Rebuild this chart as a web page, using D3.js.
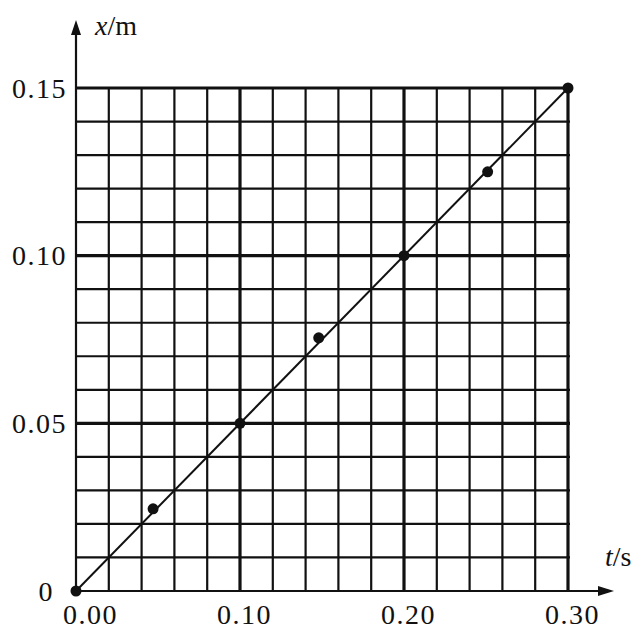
<!DOCTYPE html>
<html><head><meta charset="utf-8">
<script src="https://cdn.jsdelivr.net/npm/d3@7/dist/d3.min.js"></script>
<style>
html,body{margin:0;padding:0;background:#fff;}
svg{display:block;}
text{font-family:"Liberation Serif","DejaVu Serif",serif;fill:#111;}
</style></head>
<body>
<svg id="chart" width="636" height="632"></svg>
<script>
// data
const tValues = [0, 0.047, 0.10, 0.148, 0.20, 0.251, 0.30];
const xValues = [0, 0.0245, 0.05, 0.0755, 0.10, 0.125, 0.15];
const fitT = [0, 0.30];
const fitX = [0, 0.15];
const tTickValues = [0, 0.10, 0.20, 0.30];
const tTickLabels = ["0.00", "0.10", "0.20", "0.30"];
const xTickValues = [0, 0.05, 0.10, 0.15];
const xTickLabels = ["0", "0.05", "0.10", "0.15"];
const tMajor = [0.10, 0.20, 0.30];
const xMajor = [0.05, 0.10, 0.15];

const svg = d3.select("#chart");
const X = d3.scaleLinear().domain([0, 0.30]).range([76, 568]);
const Y = d3.scaleLinear().domain([0, 0.15]).range([591, 88]);
const ink = "#111";

// grid
const g = svg.append("g");
const vt = X.ticks(15);
const ht = Y.ticks(15);
const isMaj = (arr, v) => arr.some(m => Math.abs(m - v) < 1e-9);
g.selectAll("line.v").data(vt.filter(v => v > 0)).join("line")
  .attr("x1", d => X(d)).attr("x2", d => X(d))
  .attr("y1", Y(0)).attr("y2", Y(0.15))
  .attr("stroke", ink).attr("stroke-width", d => isMaj(tMajor, d) ? 3.2 : 2.2);
g.selectAll("line.h").data(ht.filter(v => v > 0)).join("line")
  .attr("x1", X(0)).attr("x2", X(0.30) + 2)
  .attr("y1", d => Y(d)).attr("y2", d => Y(d))
  .attr("stroke", ink).attr("stroke-width", d => isMaj(xMajor, d) ? 3.2 : 2.2);

// axes lines with arrows
svg.append("line").attr("x1", X(0)).attr("x2", X(0)).attr("y1", Y(0)).attr("y2", 30)
  .attr("stroke", ink).attr("stroke-width", 2.2);
svg.append("path").attr("d", `M${X(0)},20 L${X(0)-5},35 L${X(0)+5},35 Z`).attr("fill", ink);
svg.append("line").attr("x1", X(0)).attr("x2", 604).attr("y1", Y(0)).attr("y2", Y(0))
  .attr("stroke", ink).attr("stroke-width", 2.2);
svg.append("path").attr("d", `M614,${Y(0)} L598,${Y(0)-5} L598,${Y(0)+5} Z`).attr("fill", ink);

// tick labels via axes
const ax = svg.append("g").attr("transform", `translate(0,${Y(0)})`)
  .call(d3.axisBottom(X).tickValues(tTickValues).tickSize(0).tickPadding(0)
    .tickFormat((d, i) => tTickLabels[i]));
ax.select(".domain").remove();
ax.selectAll("text").attr("font-size", 28).attr("y", 33).attr("dy", 0)
  .style("letter-spacing", "1.5px")
  .attr("font-family", "Liberation Serif").attr("fill", ink)
  .attr("dx", (d, i) => i === 0 ? 14 : 4);

const ay = svg.append("g").attr("transform", `translate(${X(0)},0)`)
  .call(d3.axisLeft(Y).tickValues(xTickValues).tickSize(0).tickPadding(0)
    .tickFormat((d, i) => xTickLabels[i]));
ay.select(".domain").remove();
ay.selectAll("text").attr("font-size", 28).attr("font-family", "Liberation Serif")
  .style("letter-spacing", "1.5px").attr("fill", ink)
  .attr("x", (d, i) => i === 0 ? -22 : -9).attr("dy", "0.33em");

// axis titles
const tx = svg.append("text").attr("x", 95).attr("y", 35).attr("font-size", 28);
tx.append("tspan").attr("font-style", "italic").text("x");
tx.append("tspan").text("/m");
const tt = svg.append("text").attr("x", 605).attr("y", 566).attr("font-size", 28);
tt.append("tspan").attr("font-style", "italic").text("t");
tt.append("tspan").text("/s");

// fit line
svg.append("line").attr("x1", X(fitT[0])).attr("y1", Y(fitX[0]))
  .attr("x2", X(fitT[1])).attr("y2", Y(fitX[1]))
  .attr("stroke", ink).attr("stroke-width", 2);

// points
svg.selectAll("circle.p").data(tValues.map((t, i) => [t, xValues[i]])).join("circle")
  .attr("cx", d => X(d[0])).attr("cy", d => Y(d[1])).attr("r", 5.5).attr("fill", ink);
</script>
</body></html>
